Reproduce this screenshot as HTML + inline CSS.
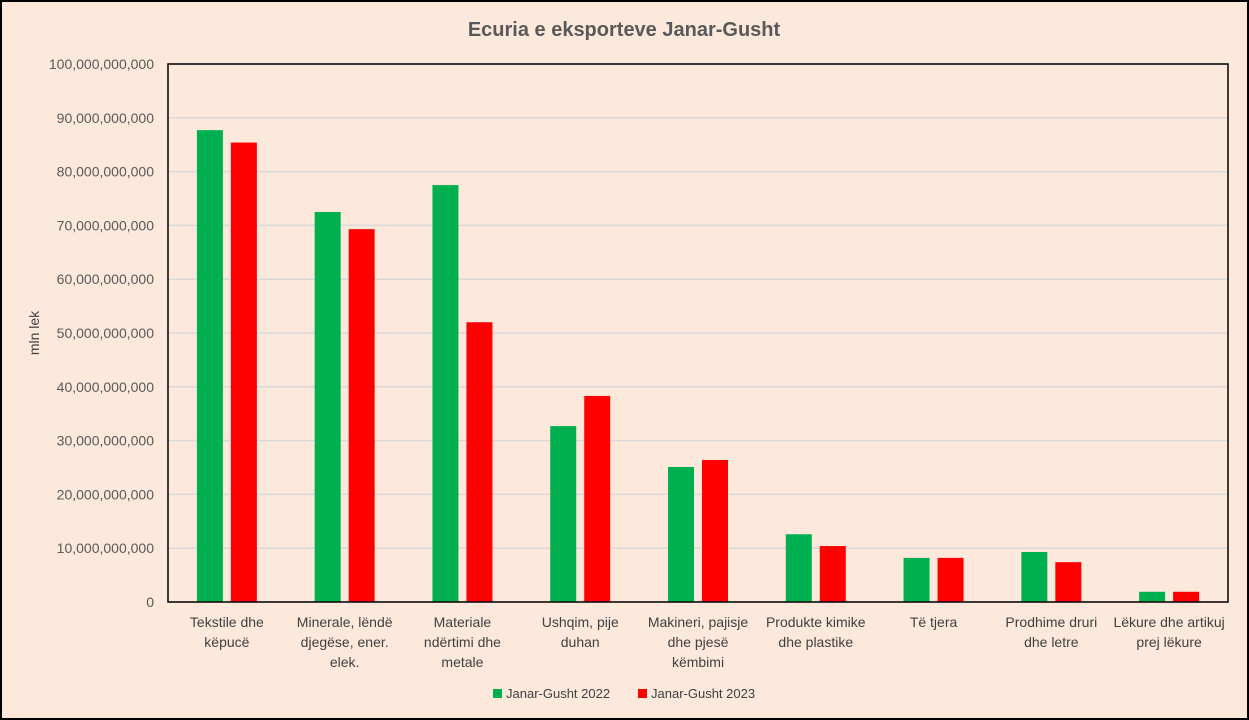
<!DOCTYPE html>
<html><head><meta charset="utf-8"><style>
html,body{margin:0;padding:0;background:#fce9db;}
svg{display:block;font-family:"Liberation Sans",sans-serif;}
</style></head><body>
<svg id="c" width="1249" height="720">
<rect x="1" y="1" width="1247" height="718" fill="#fce9db" stroke="#000" stroke-width="2"/>
<text x="624" y="36" text-anchor="middle" font-size="20" font-weight="bold" fill="#595959">Ecuria e eksporteve Janar-Gusht</text>
<text transform="translate(39,333) rotate(-90)" text-anchor="middle" font-size="14" fill="#404040">mln lek</text>
<g id="grid"></g><g id="bars"></g><g id="xl"></g>
<rect x="168" y="64" width="1060" height="538" fill="none" stroke="#000" stroke-width="1.5"/>
<g>
<rect x="493" y="689" width="9" height="9" fill="#00b050"/>
<text x="506" y="698" font-size="13" fill="#404040">Janar-Gusht 2022</text>
<rect x="638" y="689" width="9" height="9" fill="#ff0000"/>
<text x="651" y="698" font-size="13" fill="#404040">Janar-Gusht 2023</text>
</g>
</svg>
<script>
const categories=[["Tekstile dhe","këpucë"],["Minerale, lëndë","djegëse, ener.","elek."],["Materiale","ndërtimi dhe","metale"],["Ushqim, pije","duhan"],["Makineri, pajisje","dhe pjesë","këmbimi"],["Produkte kimike","dhe plastike"],["Të tjera"],["Prodhime druri","dhe letre"],["Lëkure dhe artikuj","prej lëkure"]];
const values2022=[87.7,72.5,77.5,32.7,25.1,12.6,8.2,9.3,1.9];
const values2023=[85.4,69.3,52.0,38.3,26.4,10.4,8.2,7.4,1.9];
const yTicks=[0,10,20,30,40,50,60,70,80,90,100];
const X0=168,X1=1228,Y0=602,Y1=64,YMAX=100;
const ns="http://www.w3.org/2000/svg";
const y=v=>Y0-(v/YMAX)*(Y0-Y1);
const band=(X1-X0)/categories.length;
const xc=i=>X0+band*(i+0.5);
function mk(t,a,p){const e=document.createElementNS(ns,t);for(const k in a)e.setAttribute(k,a[k]);p.appendChild(e);return e;}
const grid=document.getElementById('grid'),bars=document.getElementById('bars'),xl=document.getElementById('xl');
yTicks.forEach(v=>{
 const l=mk('line',{x1:X0,x2:X1,y1:y(v),y2:y(v),stroke:'#d9d9d9','stroke-width':1.5},grid);
 
 
 const t=mk('text',{x:154,y:y(v)+5,'text-anchor':'end','font-size':14,fill:'#595959'},grid);
 t.textContent=v===0?'0':(v*1e9).toLocaleString('en-US');
 
 
});
const bw=26,gap=8;
categories.forEach((c,i)=>{
 const g=mk('rect',{x:xc(i)-gap/2-bw,y:y(values2022[i]),width:bw,height:Y0-y(values2022[i]),fill:'#00b050'},bars);
 
 
 const r=mk('rect',{x:xc(i)+gap/2,y:y(values2023[i]),width:bw,height:Y0-y(values2023[i]),fill:'#ff0000'},bars);
 
 
 c.forEach((line,j)=>{
  const t=mk('text',{x:xc(i),y:627+j*20,'text-anchor':'middle','font-size':14,fill:'#404040'},xl);
  t.textContent=line;
  
  
 });
});
</script>
</body></html>
